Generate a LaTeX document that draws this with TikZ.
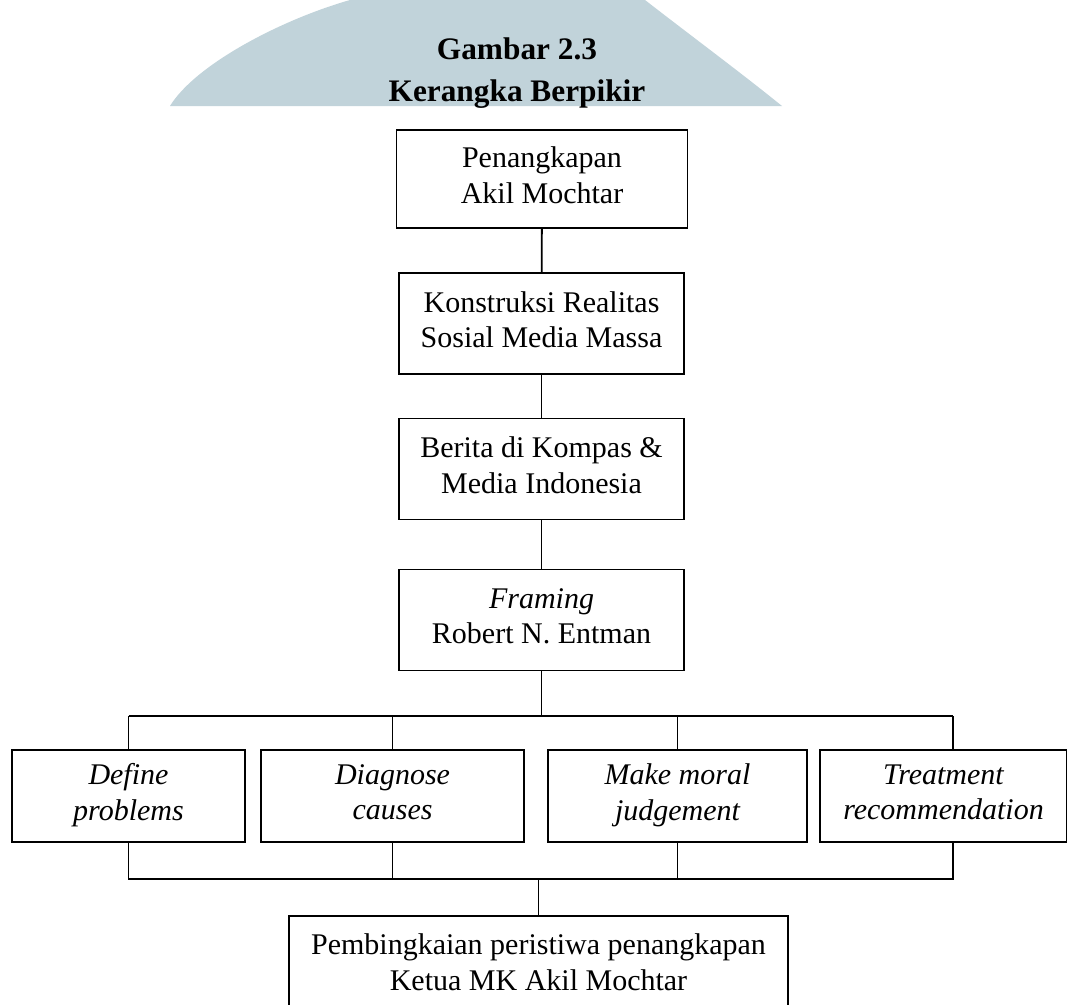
\documentclass[tikz,border=0pt]{standalone}
\usepackage{fontspec}
\setmainfont{Liberation Serif}
\usetikzlibrary{positioning}
\definecolor{wmblue}{RGB}{193,211,218}
\newcommand{\boxtopstrut}{\rule{0pt}{24pt}}
\newcommand{\boxbotstrut}{\rule[-6pt]{0pt}{0pt}}

\begin{document}
\begin{tikzpicture}[x=0.75pt, y=-0.75pt, line width=1.4pt,
    block/.style={draw, minimum width=213.75pt, minimum height=75.75pt,
                  align=center, inner sep=0pt, font=\fontsize{22.5}{26.5}\selectfont,
                  execute at begin node=\boxtopstrut, execute at end node=\boxbotstrut},
    sub/.style={block, minimum height=69pt, font=\fontsize{22.5}{26.5}\selectfont\itshape}]
    \useasboundingbox (0,0) rectangle (1067,1004);
    % watermark behind the title
    \fill[wmblue] (170,106) .. controls (195,65) and (280,20) .. (350,0)
      -- (645,0) .. controls (690,35) and (740,72) .. (782,106) -- cycle;
    \node[font=\bfseries\fontsize{23.5}{32}\selectfont, align=center] (title) at (517,73)
      {Gambar 2.3\\Kerangka Berpikir};

    \node[block, minimum width=218.25pt, minimum height=73.5pt] (akil) at (542,179)
      {Penangkapan\\Akil Mochtar};
    \node[block] (konstruksi) at (541.5,323.5) {Konstruksi Realitas\\Sosial Media Massa};
    \node[block] (berita) at (541.5,469) {Berita di Kompas \&\\Media Indonesia};
    \node[block] (framing) at (541.5,620) {\textit{Framing}\\Robert N. Entman};

    \node[sub, minimum width=174.75pt] (define) at (128.5,796) {Define\\problems};
    \node[sub, minimum width=197.25pt] (diagnose) at (392.5,796) {Diagnose\\causes};
    \node[sub, minimum width=194.25pt] (moral) at (677.5,796) {Make moral\\judgement};
    \node[sub, minimum width=185.25pt] (treat) at (943.5,796) {Treatment\\recommendation};

    \node[block, minimum width=374.25pt, minimum height=75pt] (hasil) at (538.5,966)
      {Pembingkaian peristiwa penangkapan\\Ketua MK Akil Mochtar};

    \draw (akil) -- (konstruksi);
    \draw (konstruksi) -- (berita);
    \draw (berita) -- (framing);

    \coordinate (busL) at (128.5,716);
    \coordinate (busR) at (953,716);
    \coordinate (lowL) at (128.5,879);
    \coordinate (lowR) at (953,879);
    \draw (framing.south) -- (framing.south |- busL);
    \draw (busL) -- (busR);
    \draw (define.north) -- (busL);
    \draw (diagnose.north) -- (diagnose.north |- busL);
    \draw (moral.north) -- (moral.north |- busL);
    \draw (busR) -- (busR |- treat.north);

    \draw (define.south) -- (lowL) -- (lowR) -- (lowR |- treat.south);
    \draw (diagnose.south) -- (diagnose.south |- lowL);
    \draw (moral.south) -- (moral.south |- lowL);
    \draw (hasil.north) -- (hasil.north |- lowL);
\end{tikzpicture}
\end{document}
